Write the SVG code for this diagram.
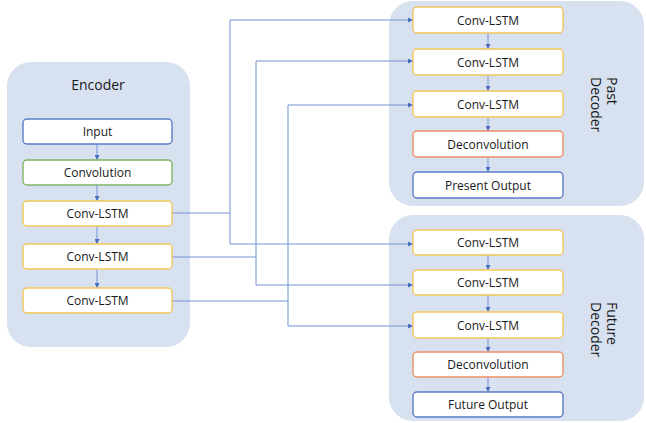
<svg xmlns="http://www.w3.org/2000/svg" width="646" height="423" viewBox="0 0 646 423">
<defs>
<marker id="ah" viewBox="0 0 6 6" refX="6" refY="3" markerWidth="5" markerHeight="5" markerUnits="userSpaceOnUse" orient="auto">
<path d="M0,0 L6,3 L0,6 z" fill="#4a6cc0"/>
</marker>
<style>
.cont{fill:#d8e1f0;}
.node rect{fill:#ffffff;stroke-width:1.4;}
.blue rect{stroke:#5a7cc6;}
.green rect{stroke:#7fb464;}
.yellow rect{stroke:#f2c75a;}
.orange rect{stroke:#ec9066;}
text{font-family:"Open Sans","Liberation Sans",Arial,sans-serif;fill:#1a1a1a;}
.nt{font-size:12px;text-anchor:middle;dominant-baseline:central;}
.title{font-size:14px;}
.edge{fill:none;stroke:#7593d6;stroke-width:1;}
.arr{fill:none;stroke:#7593d6;stroke-width:1;marker-end:url(#ah);}
</style>
</defs>
<rect x="0" y="0" width="646" height="423" fill="#ffffff"/>
<g id="encoder">
<rect class="cont" x="7" y="62" width="183" height="285" rx="24"/>
<text class="title" x="98" y="90" text-anchor="middle">Encoder</text>
</g>
<g id="past-decoder">
<rect class="cont" x="389" y="1" width="255" height="205" rx="24"/>
<text class="title" transform="translate(607,77) rotate(90)">Past</text>
<text class="title" transform="translate(591,77) rotate(90)">Decoder</text>
</g>
<g id="future-decoder">
<rect class="cont" x="389" y="215" width="255" height="206" rx="24"/>
<text class="title" transform="translate(607,302) rotate(90)">Future</text>
<text class="title" transform="translate(591,302) rotate(90)">Decoder</text>
</g>
<g id="connectors">
<path class="arr" d="M97,144 V160"/>
<path class="arr" d="M97,185 V201"/>
<path class="arr" d="M97,226 V244"/>
<path class="arr" d="M97,269 V288"/>
<path class="arr" d="M488,33 V49"/>
<path class="arr" d="M488,75 V91"/>
<path class="arr" d="M488,117 V131"/>
<path class="arr" d="M488,157 V172"/>
<path class="arr" d="M488,255 V270"/>
<path class="arr" d="M488,295 V312"/>
<path class="arr" d="M488,338 V352"/>
<path class="arr" d="M488,377 V392"/>
<path class="edge" d="M172,213 H230"/>
<path class="arr" d="M230,20 H413"/>
<path class="edge" d="M230,20 V244"/>
<path class="arr" d="M230,244 H413"/>
<path class="edge" d="M172,257 H256"/>
<path class="arr" d="M256,61 H413"/>
<path class="edge" d="M256,61 V285"/>
<path class="arr" d="M256,285 H413"/>
<path class="edge" d="M172,301 H288"/>
<path class="arr" d="M288,105 H413"/>
<path class="edge" d="M288,105 V326"/>
<path class="arr" d="M288,326 H413"/>
</g>
<g id="enc-input" class="node blue"><rect x="23" y="119" width="149" height="25" rx="4"/><text class="nt" x="97.5" y="131.5">Input</text></g>
<g id="enc-conv" class="node green"><rect x="23" y="160" width="149" height="25" rx="4"/><text class="nt" x="97.5" y="172.5">Convolution</text></g>
<g id="enc-lstm1" class="node yellow"><rect x="23" y="201" width="149" height="25" rx="4"/><text class="nt" x="97.5" y="213.5">Conv-LSTM</text></g>
<g id="enc-lstm2" class="node yellow"><rect x="23" y="244" width="149" height="25" rx="4"/><text class="nt" x="97.5" y="256.5">Conv-LSTM</text></g>
<g id="enc-lstm3" class="node yellow"><rect x="23" y="288" width="149" height="25" rx="4"/><text class="nt" x="97.5" y="300.5">Conv-LSTM</text></g>
<g id="past-lstm1" class="node yellow"><rect x="413" y="7" width="150" height="26" rx="4"/><text class="nt" x="488" y="20">Conv-LSTM</text></g>
<g id="past-lstm2" class="node yellow"><rect x="413" y="49" width="150" height="26" rx="4"/><text class="nt" x="488" y="62">Conv-LSTM</text></g>
<g id="past-lstm3" class="node yellow"><rect x="413" y="91" width="150" height="26" rx="4"/><text class="nt" x="488" y="104">Conv-LSTM</text></g>
<g id="past-deconv" class="node orange"><rect x="413" y="131" width="150" height="26" rx="4"/><text class="nt" x="488" y="144">Deconvolution</text></g>
<g id="present-output" class="node blue"><rect x="413" y="172" width="150" height="26" rx="4"/><text class="nt" x="488" y="185">Present Output</text></g>
<g id="fut-lstm1" class="node yellow"><rect x="413" y="230" width="150" height="25" rx="4"/><text class="nt" x="488" y="242.5">Conv-LSTM</text></g>
<g id="fut-lstm2" class="node yellow"><rect x="413" y="270" width="150" height="25" rx="4"/><text class="nt" x="488" y="282.5">Conv-LSTM</text></g>
<g id="fut-lstm3" class="node yellow"><rect x="413" y="312" width="150" height="26" rx="4"/><text class="nt" x="488" y="325">Conv-LSTM</text></g>
<g id="fut-deconv" class="node orange"><rect x="413" y="352" width="150" height="25" rx="4"/><text class="nt" x="488" y="364.5">Deconvolution</text></g>
<g id="future-output" class="node blue"><rect x="413" y="392" width="150" height="25" rx="4"/><text class="nt" x="488" y="404.5">Future Output</text></g>
</svg>
